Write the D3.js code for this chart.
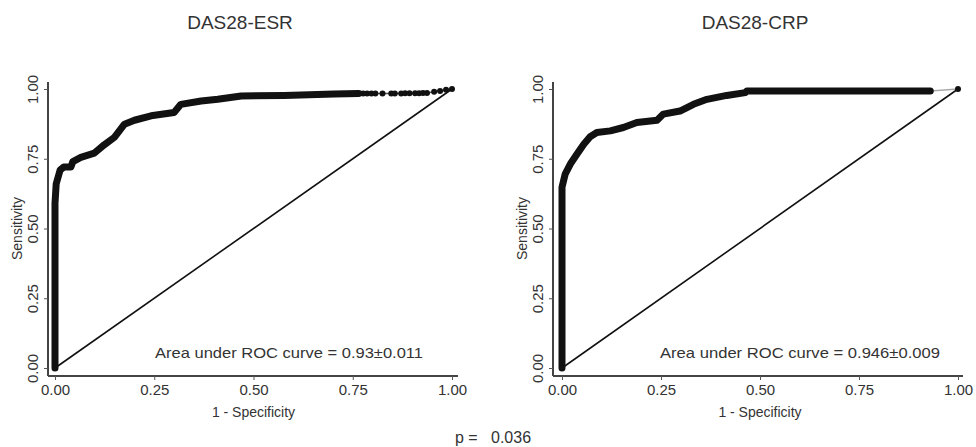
<!DOCTYPE html>
<html><head><meta charset="utf-8">
<script src="https://cdn.jsdelivr.net/npm/d3@7"></script>
<style>
body{margin:0;background:#fff;}
svg text{font-family:"Liberation Sans",Arial,sans-serif;fill:#333;}
</style></head>
<body><svg id="c" width="976" height="447"></svg>
<script>
// ---- data ----
const titles = ["DAS28-ESR", "DAS28-CRP"];
const aucLabels = ["Area under ROC curve = 0.93\u00b10.011", "Area under ROC curve = 0.946\u00b10.009"];
const tickValues = [0, 0.25, 0.5, 0.75, 1];
const tickLabels = ["0.00", "0.25", "0.50", "0.75", "1.00"];
const xTitle = "1 - Specificity";
const yTitle = "Sensitivity";
const pLabel = "p =   0.036";

// ESR ROC curve (fpr, tpr), dense part
const esrFpr = [0, 0, 0.003, 0.013, 0.022, 0.04, 0.045, 0.065, 0.099, 0.124, 0.149, 0.175, 0.2, 0.242, 0.30, 0.317, 0.368, 0.41, 0.469, 0.577, 0.703, 0.765];
const esrTpr = [0, 0.59, 0.66, 0.71, 0.72, 0.72, 0.74, 0.755, 0.77, 0.80, 0.826, 0.874, 0.888, 0.904, 0.916, 0.945, 0.957, 0.963, 0.975, 0.977, 0.982, 0.984];
// ESR sparse tail markers
const esrTailFpr = [0.776, 0.786, 0.797, 0.807, 0.825, 0.847, 0.856, 0.872, 0.882, 0.893, 0.907, 0.917, 0.927, 0.937, 0.955, 0.97, 0.985, 1];
const esrTailTpr = [0.984, 0.984, 0.984, 0.984, 0.984, 0.984, 0.984, 0.984, 0.985, 0.985, 0.985, 0.985, 0.986, 0.986, 0.99, 0.993, 0.997, 1];

// CRP ROC curve dense part
const crpFpr = [0, 0, 0.008, 0.021, 0.038, 0.055, 0.071, 0.088, 0.122, 0.155, 0.189, 0.24, 0.256, 0.298, 0.332, 0.366, 0.416, 0.463, 0.467, 0.6, 0.75, 0.93];
const crpTpr = [0, 0.648, 0.695, 0.731, 0.767, 0.802, 0.829, 0.844, 0.85, 0.862, 0.88, 0.888, 0.91, 0.921, 0.945, 0.963, 0.977, 0.987, 0.993, 0.993, 0.993, 0.993];
const crpTailFpr = [0.93, 1];
const crpTailTpr = [0.993, 1];

const panels = [
  {title: titles[0], auc: aucLabels[0], fpr: esrFpr, tpr: esrTpr, tFpr: esrTailFpr, tTpr: esrTailTpr, tailMarkers: true,
   x0: 55, x1: 452, axX: 48, axXEnd: 458, titleX: 240, aucX: 289, aucW: 268},
  {title: titles[1], auc: aucLabels[1], fpr: crpFpr, tpr: crpTpr, tFpr: crpTailFpr, tTpr: crpTailTpr, tailMarkers: false,
   x0: 562, x1: 958, axX: 553, axXEnd: 963, titleX: 755, aucX: 800, aucW: 280}
];

const svg = d3.select("#c");
const yTop = 89, yBot = 368, axY = 376, axYTop = 82;

panels.forEach(p => {
  const x = d3.scaleLinear().domain([0, 1]).range([p.x0, p.x1]);
  const y = d3.scaleLinear().domain([0, 1]).range([yBot, yTop]);
  const g = svg.append("g");

  // title
  g.append("text").attr("x", p.titleX).attr("y", 29).attr("text-anchor", "middle")
    .attr("font-size", 19).text(p.title);

  // axis lines
  g.append("line").attr("x1", p.axX).attr("x2", p.axX).attr("y1", axYTop).attr("y2", axY)
    .attr("stroke", "#444").attr("stroke-width", 2);
  g.append("line").attr("x1", p.axX).attr("x2", p.axXEnd).attr("y1", axY).attr("y2", axY)
    .attr("stroke", "#444").attr("stroke-width", 2);

  // x axis ticks
  const xa = d3.axisBottom(x).tickValues(tickValues).tickFormat((d, i) => tickLabels[i])
    .tickSize(4).tickSizeOuter(0).tickPadding(4);
  const gx = g.append("g").attr("transform", `translate(0,${axY})`).call(xa);
  gx.select(".domain").remove();
  gx.selectAll(".tick line").attr("stroke", "#555");
  gx.selectAll(".tick text").attr("font-size", 15).attr("fill", "#333")
    .attr("font-family", "Liberation Sans, Arial, sans-serif");

  // y axis ticks
  const ya = d3.axisLeft(y).tickValues(tickValues).tickFormat((d, i) => tickLabels[i])
    .tickSize(4).tickSizeOuter(0).tickPadding(4);
  const gy = g.append("g").attr("transform", `translate(${p.axX},0)`).call(ya);
  gy.select(".domain").remove();
  gy.selectAll(".tick line").attr("stroke", "#555");
  gy.selectAll(".tick text").attr("font-size", 15).attr("fill", "#333")
    .attr("font-family", "Liberation Sans, Arial, sans-serif")
    .attr("text-anchor", "middle").attr("dy", null)
    .attr("transform", "rotate(-90)")
    .attr("x", 0).attr("y", -10);

  // axis titles
  g.append("text").attr("transform", `translate(${p.axX - 26},${(yTop + yBot) / 2}) rotate(-90)`)
    .attr("text-anchor", "middle").attr("font-size", 14).text(yTitle);
  g.append("text").attr("x", (p.x0 + p.x1) / 2).attr("y", 417).attr("text-anchor", "middle")
    .attr("font-size", 14).text(xTitle);

  // diagonal reference
  g.append("line").attr("x1", x(0)).attr("y1", y(0)).attr("x2", x(1)).attr("y2", y(1))
    .attr("stroke", "#111").attr("stroke-width", 1.6);

  // thin tail line
  const tail = p.tFpr.map((d, i) => [d, p.tTpr[i]]);
  const line = d3.line().x(d => x(d[0])).y(d => y(d[1]));
  g.append("path").attr("d", line(tail)).attr("fill", "none")
    .attr("stroke", p.tailMarkers ? "#555" : "#aaa").attr("stroke-width", 1.5);
  if (p.tailMarkers) {
    g.selectAll(".tm").data(tail).enter().append("circle")
      .attr("cx", d => x(d[0])).attr("cy", d => y(d[1])).attr("r", 3).attr("fill", "#111");
  } else {
    g.append("circle").attr("cx", x(1)).attr("cy", y(1)).attr("r", 3).attr("fill", "#111");
  }

  // main ROC curve (thick, dense markers)
  const pts = p.fpr.map((d, i) => [d, p.tpr[i]]);
  g.append("path").attr("d", line(pts)).attr("fill", "none").attr("stroke", "#111")
    .attr("stroke-width", 7).attr("stroke-linejoin", "round").attr("stroke-linecap", "round");

  // AUC label
  g.append("text").attr("x", p.aucX).attr("y", 358).attr("text-anchor", "middle")
    .attr("font-size", 15).attr("textLength", p.aucW).attr("lengthAdjust", "spacingAndGlyphs")
    .text(p.auc);
});

svg.append("text").attr("x", 493).attr("y", 443).attr("text-anchor", "middle")
  .attr("font-size", 16).attr("xml:space", "preserve").style("white-space", "pre").text(pLabel);
</script></body></html>
